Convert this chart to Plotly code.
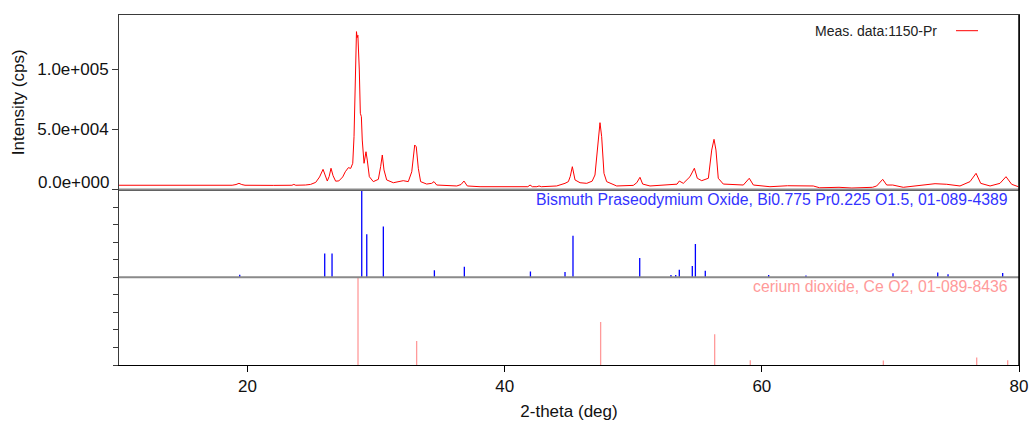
import plotly.graph_objects as go

meas_2theta = [10.0, 11.5, 12.2, 12.5, 13.1, 13.3, 16.0, 18.8, 19.1, 19.33, 19.55, 19.8,
               22.0, 23.45, 23.6, 23.75, 24.5, 24.9, 25.3, 25.6, 25.87, 26.05, 26.2, 26.35,
               26.49, 26.65, 26.85, 27.1, 27.4, 27.6, 27.84, 28.02, 28.18, 28.28, 28.38,
               28.47, 28.52, 28.58, 28.69, 28.77, 28.85, 28.92, 29.06, 29.21, 29.31, 29.47,
               29.78, 30.17, 30.35, 30.48, 30.61, 30.82, 31.34, 31.8, 32.11, 32.5, 32.77,
               33.0, 33.12, 33.28, 33.46, 33.93, 34.32, 34.5, 34.71, 36.27, 36.6, 36.83,
               37.09, 38.08, 41.8, 41.97, 42.15, 42.5, 42.67, 42.85, 44.04, 44.69, 44.95,
               45.1, 45.26, 45.47, 45.86, 46.38, 46.8, 47.02, 47.28, 47.41, 47.54, 47.72,
               47.93, 48.71, 50.0, 50.27, 50.52, 50.73, 51.3, 52.86, 53.4, 53.58, 53.89,
               54.41, 54.75, 54.98, 55.32, 55.84, 56.1, 56.28, 56.43, 56.61, 57.0, 58.56,
               59.02, 59.34, 60.63, 62.0, 64.0, 64.5, 66.0, 67.0, 68.6, 68.93, 69.4, 69.71,
               70.18, 71.0, 72.04, 73.47, 74.38, 75.41, 76.19, 76.66, 77.02, 77.75, 78.52,
               78.99, 79.43, 79.95]
meas_cps = [3600, 3600, 3900, 3500, 3900, 3500, 3500, 3600, 4200, 5200, 4200, 3600,
            3500, 3600, 4300, 3600, 3800, 4300, 6000, 10500, 16800, 10500, 7100, 11000,
            17700, 11500, 7000, 7200, 10500, 14800, 18200, 17600, 21800, 43900, 86700,
            131000, 126000, 128000, 99200, 63300, 60500, 41100, 21800, 31400, 24500, 10700,
            6600, 8500, 19000, 28700, 16300, 8000, 5700, 6500, 7400, 6600, 14800,
            37000, 35500, 17700, 6600, 4600, 5200, 6600, 3800, 3000, 4200, 7100,
            3000, 2400, 2400, 3800, 2400, 2400, 3000, 2400, 3000, 5200, 6600,
            11000, 19000, 8000, 5700, 5200, 7000, 12100, 43900, 55500, 43900, 13500,
            6600, 3000, 3500, 5700, 10200, 4600, 3000, 3800, 4500, 7100, 5200,
            10700, 17700, 9400, 7400, 9400, 32800, 41700, 32800, 9400, 4600, 3800,
            9400, 3800, 2400, 3200, 3000, 1500, 1900, 1300, 1900, 3000, 8500, 3800,
            3800, 1900, 3200, 4900, 4400, 3000, 6600, 13500, 5200, 3000, 5200,
            10700, 4400, 2400]

# ---- reference pattern 1: Bismuth Praseodymium Oxide (relative intensity) ----
bpo_2theta = [19.39, 26.0, 26.57, 28.88, 29.27, 30.56, 34.53, 36.86, 42.0, 44.69, 45.31,
              50.5, 52.93, 53.3, 53.58, 54.59, 54.83, 55.6, 60.53, 63.43, 70.2, 73.68,
              74.48, 78.73]
bpo_int = [3, 27, 27, 100, 49, 58, 8, 12, 6.5, 6, 47.5, 22, 2.5, 2.5, 8.5, 13, 38, 7.5,
           2.5, 2, 4.5, 5.5, 3.5, 5]

# ---- reference pattern 2: cerium dioxide (relative intensity) ----
ceo_2theta = [28.59, 33.15, 47.46, 56.33, 59.1, 69.45, 76.71, 79.12]
ceo_int = [100, 27.5, 49, 35, 5.5, 5, 8.5, 5.5]

x_ticks = [20, 40, 60, 80]
y_ticks = [0, 50000, 100000]
y_ticktext = ["", "5.0e+004", "1.0e+005"]

meas_name = "Meas. data:1150-Pr"
bpo_label = "Bismuth Praseodymium Oxide, Bi0.775 Pr0.225 O1.5, 01-089-4389"
ceo_label = "cerium dioxide, Ce O2, 01-089-8436"

W, H = 1030, 421
FONT = "Liberation Sans, Arial, sans-serif"


def sticks(xs, hs):
    sx, sy = [], []
    for x, h in zip(xs, hs):
        sx += [x, x, None]
        sy += [0, h, None]
    return sx, sy


def px_x(p):
    return p / W


def px_y(p):
    return (H - p) / H


xd = [px_x(119), px_x(1019)]
y_top = [px_y(189.6), px_y(15)]
y_mid = [px_y(277.3), px_y(189.6)]
y_bot = [px_y(365), px_y(277.3)]

fig = go.Figure()

fig.add_trace(go.Scatter(x=meas_2theta, y=meas_cps, mode="lines",
                         line=dict(color="#ff0000", width=1), xaxis="x3", yaxis="y3",
                         name=meas_name, showlegend=False))

bx, by = sticks(bpo_2theta, bpo_int)
fig.add_trace(go.Scatter(x=bx, y=by, mode="lines", line=dict(color="#0000ff", width=1.3),
                         xaxis="x2", yaxis="y2", showlegend=False))

cx, cy = sticks(ceo_2theta, ceo_int)
fig.add_trace(go.Scatter(x=cx, y=cy, mode="lines", line=dict(color="#ff9a9a", width=1.3),
                         xaxis="x", yaxis="y", showlegend=False))

axcol = "#3a3a3a"
tickfont = dict(family=FONT, size=17, color="#111111")

fig.update_layout(
    width=W, height=H,
    margin=dict(l=0, r=0, t=0, b=0, autoexpand=False),
    paper_bgcolor="white", plot_bgcolor="white",
    showlegend=False,
    xaxis=dict(domain=xd, range=[10, 80], anchor="y", showgrid=False, zeroline=False,
               automargin=False, ticklabeloverflow="allow",
               showline=True, linecolor="#000000", linewidth=1, mirror=False,
               ticks="outside", ticklen=6, tickcolor="#000000", tickvals=x_ticks,
               tickfont=tickfont,
               title=dict(text="2-theta (deg)", font=dict(family=FONT, size=17, color="#111111"),
                          standoff=14)),
    yaxis=dict(domain=y_bot, range=[0, 100], anchor="x", showgrid=False, zeroline=False,
               automargin=False,
               showline=True, linecolor=axcol, linewidth=1, mirror=True,
               ticks="outside", ticklen=5, tickcolor=axcol, tickvals=[0, 20, 40, 60, 80, 100],
               showticklabels=False),
    xaxis2=dict(domain=xd, range=[10, 80], anchor="y2", showgrid=False, zeroline=False,
                automargin=False, showline=False, ticks="", showticklabels=False),
    yaxis2=dict(domain=y_mid, range=[0, 100], anchor="x2", showgrid=False, zeroline=False,
                automargin=False,
                showline=True, linecolor=axcol, linewidth=1, mirror=True,
                ticks="outside", ticklen=5, tickcolor=axcol, tickvals=[0, 20, 40, 60, 80, 100],
                showticklabels=False),
    xaxis3=dict(domain=xd, range=[10, 80], anchor="y3", showgrid=False, zeroline=False,
                automargin=False,
                showline=True, linecolor=axcol, linewidth=1, mirror=True,
                ticks="", showticklabels=False),
    yaxis3=dict(domain=y_top, range=[0, 144800], anchor="x3", showgrid=False, zeroline=False,
                automargin=False,
                showline=True, linecolor=axcol, linewidth=1, mirror=True,
                ticks="outside", ticklen=6, tickcolor=axcol, tickvals=y_ticks,
                ticktext=y_ticktext, tickfont=tickfont,
                title=dict(text="Intensity (cps)", font=dict(family=FONT, size=17, color="#111111"),
                           standoff=8)),
)

# panel separators and right frame edge
shapes = [
    dict(type="line", xref="paper", yref="paper", x0=xd[0], x1=xd[1], y0=y_top[0], y1=y_top[0],
         line=dict(color="#8a8a8a", width=2)),
    dict(type="line", xref="paper", yref="paper", x0=xd[0], x1=xd[1], y0=y_mid[0], y1=y_mid[0],
         line=dict(color="#8a8a8a", width=2)),
    dict(type="line", xref="paper", yref="paper", x0=xd[1], x1=xd[1], y0=y_bot[0], y1=y_top[1],
         line=dict(color="#000000", width=1.5)),
    # legend sample line
    dict(type="line", xref="paper", yref="paper", x0=px_x(956), x1=px_x(978),
         y0=px_y(30.7), y1=px_y(30.7), line=dict(color="#ff0000", width=1)),
]
fig.update_layout(shapes=shapes)

annotations = [
    dict(text="0.0e+000", xref="paper", yref="paper", x=px_x(111), y=px_y(182),
         xanchor="right", yanchor="middle", showarrow=False, font=tickfont),
    dict(text=meas_name, xref="paper", yref="paper", x=px_x(939), y=px_y(30.7),
         xanchor="right", yanchor="middle", showarrow=False,
         font=dict(family=FONT, size=14, color="#222222")),
    dict(text=bpo_label, xref="paper", yref="paper", x=px_x(1010), y=px_y(199),
         xanchor="right", yanchor="middle", showarrow=False,
         font=dict(family=FONT, size=15.8, color="#3333ff")),
    dict(text=ceo_label, xref="paper", yref="paper", x=px_x(1010), y=px_y(286),
         xanchor="right", yanchor="middle", showarrow=False,
         font=dict(family=FONT, size=15.8, color="#ff9a9a")),
]
fig.update_layout(annotations=annotations)

fig.write_html("out.html")
